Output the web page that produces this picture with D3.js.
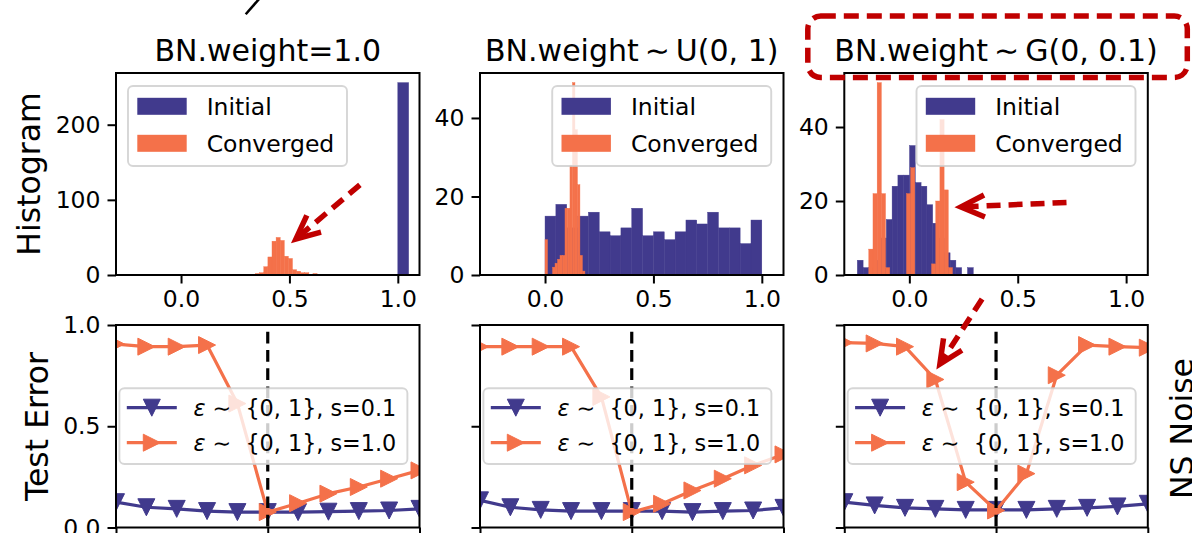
<!DOCTYPE html>
<html>
<head>
<meta charset="utf-8">
<script src="https://cdn.jsdelivr.net/npm/d3@7"></script>
<style>
  body { margin: 0; background: #fff; }
  svg { display: block; }
  text { font-family: "DejaVu Sans", sans-serif; }
</style>
</head>
<body>
<svg id="fig" width="1192" height="533"></svg>
<script>
// ---------------- data ----------------
const panelTitles = ["BN.weight=1.0", "BN.weight\u2009\u223C\u2009U(0, 1)", "BN.weight\u2009\u223C\u2009G(0, 0.1)"];
const histXTicks = [0.0, 0.5, 1.0];
const histYTicks = [[0, 100, 200], [0, 20, 40], [0, 20, 40]];

// histogram bins: left edge of first bin, bin width, counts per bin
const initialStart = [1.0, 0.0, -0.24];
const initialWidth = [0.05, 0.05, 0.02675];
const initialA = [256];
const initialB = [15, 18, 12, 15, 16, 11, 10, 12, 17, 10, 11, 9, 11, 14, 13, 16, 12, 12, 8, 14];
const initialC = [4, 2, 2, 4, 10, 15, 24, 27, 27, 35, 25, 24, 19, 14, 10, 6, 4, 2, 0, 2];

const convergedStart = [0.344, 0.0, -0.187];
const convergedWidth = [0.0189, 0.0115, 0.0193];
const convergedA = [2, 3, 11, 24, 45, 50, 46, 25, 22, 7, 5, 3, 3, 0, 2];
const convergedB = [9, 0, 0, 2, 3, 4, 5, 5, 17, 17, 28, 49, 37, 23, 5, 1];
const convergedC = [7, 22, 52, 22, 2, 0, 0, 0, 0, 22, 29, 0, 0, 0, 0, 3, 20, 42, 23, 2];

const histLegend = ["Initial", "Converged"];
const histLegendLoc = ["left", "right", "right"];

// test error vs. noise position
const noiseSteps = [-5, -4, -3, -2, -1, 0, 1, 2, 3, 4, 5];
const noiseTicks = [-5, 0, 5];
const errTicks = [0.0, 0.5, 1.0];
const errLowA  = [0.125, 0.100, 0.092, 0.081, 0.076, 0.076, 0.076, 0.078, 0.081, 0.084, 0.092];
const errHighA = [0.906, 0.893, 0.893, 0.901, 0.612, 0.076, 0.120, 0.167, 0.200, 0.241, 0.282];
const errLowB  = [0.134, 0.100, 0.087, 0.081, 0.081, 0.081, 0.081, 0.076, 0.081, 0.084, 0.097];
const errHighB = [0.893, 0.893, 0.893, 0.893, 0.645, 0.076, 0.117, 0.183, 0.241, 0.307, 0.361];
const errLowC  = [0.125, 0.109, 0.097, 0.092, 0.087, 0.087, 0.087, 0.092, 0.097, 0.104, 0.117];
const errHighC = [0.913, 0.909, 0.893, 0.731, 0.224, 0.084, 0.266, 0.752, 0.901, 0.893, 0.888];
const lineLegendSuffix = [" \u223C  {0, 1}, s=0.1", " \u223C  {0, 1}, s=1.0"];

// ---------------- style / layout ----------------
const BLUE = "#413a8d", ORANGE = "#f4714a", RED = "#c00000";
const colLeft = [116, 480, 844.3], axW = 303.5;
const topY0 = 73, topY1 = 275, botY0 = 325, botY1 = 527.5;
const tickFont = 23.5, titleFont = 30, labelFont = 31.5, legFont = 23.5, legFont2 = 22.3;

const svg = d3.select("#fig");
const defs = svg.append("defs");

function bins(start, width, counts) {
  return counts.map((n, i) => ({ x0: start + i * width, x1: start + (i + 1) * width, n }));
}

function styleAxis(g, showText) {
  g.select(".domain").remove();
  g.selectAll(".tick line").attr("stroke", "#000").attr("stroke-width", 2);
  g.selectAll(".tick text").attr("fill", "#000").attr("font-size", tickFont)
    .attr("font-family", '"DejaVu Sans", sans-serif')
    .style("display", showText ? null : "none");
}

function frame(g, x0, y0, w, h) {
  g.append("rect").attr("x", x0).attr("y", y0).attr("width", w).attr("height", h)
    .attr("fill", "none").attr("stroke", "#000").attr("stroke-width", 2);
}

function legendBox(g, x, y, w, h) {
  g.append("rect").attr("x", x).attr("y", y).attr("width", w).attr("height", h)
    .attr("rx", 5).attr("fill", "#fff").attr("fill-opacity", 0.8)
    .attr("stroke", "#cccccc").attr("stroke-opacity", 0.8).attr("stroke-width", 1.9);
}

// ---------------- histograms (top row) ----------------
const initialAll = [initialA, initialB, initialC];
const convergedAll = [convergedA, convergedB, convergedC];

[0, 1, 2].forEach(i => {
  const g = svg.append("g");
  const left = colLeft[i];
  const x = d3.scaleLinear().domain([-0.3, 1.1]).range([left, left + axW]);
  const yMax = d3.max(initialAll[i].concat(convergedAll[i])) * 1.05;
  const y = d3.scaleLinear().domain([0, yMax]).range([topY1, topY0]);

  const drawBins = (data, color) => {
    g.append("g").selectAll("rect").data(data.filter(d => d.n > 0)).join("rect")
      .attr("x", d => x(d.x0)).attr("width", d => x(d.x1) - x(d.x0))
      .attr("y", d => y(d.n)).attr("height", d => y(0) - y(d.n))
      .attr("fill", color).attr("stroke", color).attr("stroke-width", 0.4);
  };
  drawBins(bins(initialStart[i], initialWidth[i], initialAll[i]), BLUE);
  drawBins(bins(convergedStart[i], convergedWidth[i], convergedAll[i]), ORANGE);

  // legend
  const lw = 219, lh = 80;
  const lx = histLegendLoc[i] === "left" ? left + 12 : left + axW - 12.3 - lw;
  const ly = 86;
  const lg = g.append("g");
  legendBox(lg, lx, ly, lw, lh);
  [BLUE, ORANGE].forEach((c, k) => {
    const cy = ly + 20.3 + k * 37;
    lg.append("rect").attr("x", lx + 9.3).attr("y", cy - 8.5).attr("width", 49.4).attr("height", 17).attr("fill", c);
    lg.append("text").attr("x", lx + 78.7).attr("y", cy).attr("dy", "0.35em")
      .attr("font-size", legFont).text(histLegend[k]);
  });

  frame(g, left, topY0, axW, topY1 - topY0);

  g.append("g").attr("transform", `translate(0,${topY1})`)
    .call(d3.axisBottom(x).tickValues(histXTicks).tickFormat(d3.format(".1f")).tickSize(8.5).tickPadding(7))
    .call(a => styleAxis(a, true));
  g.append("g").attr("transform", `translate(${left},0)`)
    .call(d3.axisLeft(y).tickValues(histYTicks[i]).tickFormat(d3.format("d")).tickSize(8.5).tickPadding(7))
    .call(a => styleAxis(a, true));

  g.append("text").attr("x", left + axW / 2).attr("y", 60.5).attr("text-anchor", "middle")
    .attr("font-size", titleFont).text(panelTitles[i]);
});

// ---------------- test error curves (bottom row) ----------------
const lowAll = [errLowA, errLowB, errLowC];
const highAll = [errHighA, errHighB, errHighC];
const H = 8.5;
const triDown = `M${-H},${-H}L${H},${-H}L0,${H}Z`;
const triRight = `M${-H},${-H}L${H},0L${-H},${H}Z`;

[0, 1, 2].forEach(i => {
  const g = svg.append("g");
  const left = colLeft[i];
  const x = d3.scaleLinear().domain([-5, 5]).range([left, left + axW]);
  const y = d3.scaleLinear().domain([0, 1]).range([botY1, botY0]);

  const clipId = "clip" + i;
  defs.append("clipPath").attr("id", clipId).append("rect")
    .attr("x", left).attr("y", botY0).attr("width", axW).attr("height", botY1 - botY0);

  const plot = g.append("g").attr("clip-path", `url(#${clipId})`);
  const line = d3.line().x((d, k) => x(noiseSteps[k])).y(d => y(d));

  [[lowAll[i], BLUE, triDown], [highAll[i], ORANGE, triRight]].forEach(([vals, c, shape]) => {
    plot.append("path").attr("d", line(vals)).attr("fill", "none")
      .attr("stroke", c).attr("stroke-width", 3.2).attr("stroke-linejoin", "round");
    plot.append("g").selectAll("path").data(vals).join("path")
      .attr("transform", (d, k) => `translate(${x(noiseSteps[k])},${y(d)})`)
      .attr("d", shape).attr("fill", c).attr("stroke", c).attr("stroke-width", 1);
  });

  // reference line at zero shift
  plot.append("line").attr("x1", x(0)).attr("x2", x(0)).attr("y1", y(1)).attr("y2", y(0))
    .attr("stroke", "#000").attr("stroke-width", 3.2).attr("stroke-dasharray", "11.7,6.6")
    .attr("stroke-dashoffset", -6.7);

  // legend
  const lx = left + 3.4, ly = 388.3, lw = 288, lh = 75.7;
  const lg = g.append("g");
  legendBox(lg, lx, ly, lw, lh);
  [[BLUE, triDown], [ORANGE, triRight]].forEach(([c, shape], k) => {
    const cy = ly + 19.4 + k * 35;
    lg.append("line").attr("x1", lx + 7.4).attr("x2", lx + 57.4).attr("y1", cy).attr("y2", cy)
      .attr("stroke", c).attr("stroke-width", 3.2);
    lg.append("path").attr("transform", `translate(${lx + 32.4},${cy})`).attr("d", shape)
      .attr("fill", c).attr("stroke", c).attr("stroke-width", 1);
    const t = lg.append("text").attr("x", lx + 74).attr("y", cy).attr("dy", "0.35em")
      .attr("font-size", legFont2).style("white-space", "pre");
    t.append("tspan").attr("font-style", "italic").text("\u03B5");
    t.append("tspan").text(lineLegendSuffix[k]);
  });

  frame(g, left, botY0, axW, botY1 - botY0);

  g.append("g").attr("transform", `translate(0,${botY1})`)
    .call(d3.axisBottom(x).tickValues(noiseTicks).tickFormat("").tickSize(8.5))
    .call(a => styleAxis(a, false));
  g.append("g").attr("transform", `translate(${left},0)`)
    .call(d3.axisLeft(y).tickValues(errTicks).tickFormat(d3.format(".1f")).tickSize(8.5).tickPadding(7))
    .call(a => styleAxis(a, i === 0));
});

// ---------------- axis labels ----------------
svg.append("text").attr("transform", "translate(40,174) rotate(-90)").attr("text-anchor", "middle")
  .attr("font-size", labelFont).text("Histogram");
svg.append("text").attr("transform", "translate(48,426.5) rotate(-90)").attr("text-anchor", "middle")
  .attr("font-size", labelFont).text("Test Error");
svg.append("text").attr("transform", "translate(1193,428.5) rotate(-90)").attr("text-anchor", "middle")
  .attr("font-size", labelFont).text("NS Noise");

// ---------------- callouts ----------------
const xA = d3.scaleLinear().domain([-0.3, 1.1]).range([colLeft[0], colLeft[0] + axW]);
const yA = d3.scaleLinear().domain([0, 256 * 1.05]).range([topY1, topY0]);
const xC = d3.scaleLinear().domain([-0.3, 1.1]).range([colLeft[2], colLeft[2] + axW]);
const yC = d3.scaleLinear().domain([0, 52 * 1.05]).range([topY1, topY0]);
const xCb = d3.scaleLinear().domain([-5, 5]).range([colLeft[2], colLeft[2] + axW]);
const yCb = d3.scaleLinear().domain([0, 1]).range([botY1, botY0]);

function dashedArrow(x0, y0, x1, y1) {
  const g = svg.append("g");
  const ang = Math.atan2(y0 - y1, x0 - x1);
  const len = 26, spread = 25 * Math.PI / 180;
  g.append("line").attr("x1", x0).attr("y1", y0)
    .attr("x2", x1 + Math.cos(ang) * 4).attr("y2", y1 + Math.sin(ang) * 4)
    .attr("stroke", RED).attr("stroke-width", 5.5).attr("stroke-dasharray", "14,8");
  const a1 = [x1 + len * Math.cos(ang - spread), y1 + len * Math.sin(ang - spread)];
  const a2 = [x1 + len * Math.cos(ang + spread), y1 + len * Math.sin(ang + spread)];
  g.append("path").attr("d", `M${a1[0]},${a1[1]}L${x1},${y1}L${a2[0]},${a2[1]}`)
    .attr("fill", "none").attr("stroke", RED).attr("stroke-width", 5.5)
    .attr("stroke-linejoin", "miter").attr("stroke-linecap", "butt");
}

// converged peak in the constant-init panel
dashedArrow(xA(0.825), yA(120), xA(0.530), yA(48));
// split modes in the gaussian-init panel
dashedArrow(xC(0.725), yC(19.6), xC(0.238), yC(18.4));
// shoulder of the error curve
dashedArrow(xCb(-0.46), 299, xCb(-1.85), yCb(0.807));

// highlighted title
svg.append("rect").attr("x", 807.8).attr("y", 16).attr("width", 379.5).attr("height", 61.5)
  .attr("rx", 13).attr("fill", "none").attr("stroke", RED).attr("stroke-width", 5.5)
  .attr("stroke-dasharray", "15,8");

// connector stub at the top
svg.append("line").attr("x1", 245.7).attr("y1", 14.3).attr("x2", 259.5).attr("y2", -1.5)
  .attr("stroke", "#000").attr("stroke-width", 2.5);
</script>
</body>
</html>
